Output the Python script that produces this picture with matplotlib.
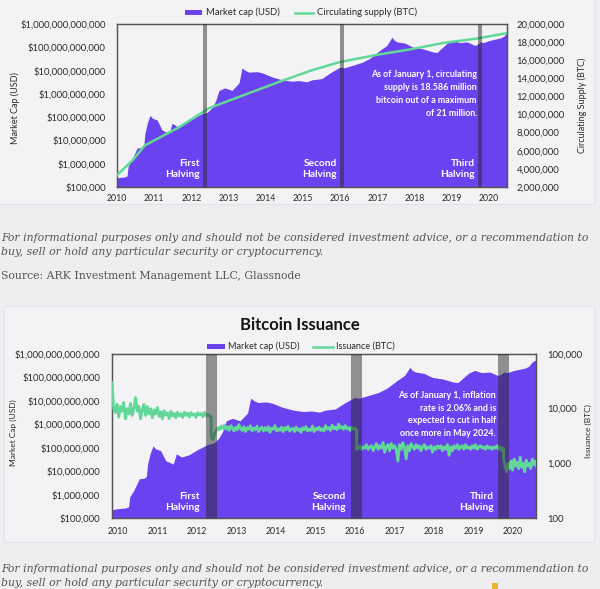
import numpy as np
import matplotlib
matplotlib.use('Agg')
import matplotlib.pyplot as plt
from matplotlib.patches import Rectangle
from matplotlib.lines import Line2D
from matplotlib.ticker import NullLocator

# ---------------- data ----------------
years = list(range(2010, 2021))
halvings = [2012.36, 2016.04, 2019.76]

mc_years = [2009.8, 2010.0, 2010.2, 2010.27, 2010.30, 2010.40, 2010.54, 2010.67, 2010.72, 2010.75,
            2010.82, 2010.89, 2010.95, 2011.08, 2011.21, 2011.40, 2011.48, 2011.61, 2011.8, 2012.0,
            2012.28, 2012.42, 2012.55, 2012.65, 2012.74, 2012.90, 2013.09, 2013.28, 2013.36, 2013.45,
            2013.55, 2013.75, 2013.90, 2014.17, 2014.44, 2014.7, 2014.89, 2015.1, 2015.24, 2015.5,
            2015.73, 2015.99, 2016.1, 2016.34, 2016.6, 2016.80, 2017.07, 2017.25, 2017.39, 2017.45,
            2017.53, 2017.74, 2017.96, 2018.23, 2018.49, 2018.6, 2018.87, 2019.03, 2019.2, 2019.41,
            2019.62, 2019.70, 2019.76, 2019.85, 2020.03, 2020.30, 2020.40, 2020.48, 2020.6]
mc_values = [2.2e5, 2.5e5, 2.7e5, 3e5, 8e5, 1.5e6, 4.7e6, 5e6, 6e6, 2e7,
             6e7, 1.2e8, 9e7, 7.5e7, 2.8e7, 2e7, 5.5e7, 4e7, 5e7, 8e7,
             1.4e8, 1.6e8, 2.5e8, 5e8, 1.4e9, 1.8e9, 1.4e9, 3e9, 1.3e10, 1.0e10,
             8.5e9, 9e9, 8e9, 5.3e9, 4e9, 3.5e9, 3.7e9, 3.3e9, 4e9, 4.5e9,
             8e9, 1.4e10, 1.3e10, 1.7e10, 2.3e10, 3.4e10, 7.5e10, 1.2e11, 2.7e11, 2.0e11,
             1.7e11, 1.5e11, 1e11, 8.5e10, 6.3e10, 6e10, 1.5e11, 2e11, 1.6e11, 1.7e11,
             1.2e11, 1.4e11, 1.7e11, 1.6e11, 2e11, 2.5e11, 3e11, 4.5e11, 6e11]

supply_years = [2010.0, 2010.43, 2010.75, 2011.67, 2012.47, 2013.44, 2014.35, 2015.24, 2015.99,
                2016.99, 2017.88, 2018.76, 2019.68, 2020.48]
supply_btc = [3.3e6, 5.0e6, 6.6e6, 8.6e6, 10.7e6, 12.2e6, 13.6e6, 14.9e6, 15.8e6,
              16.6e6, 17.2e6, 17.9e6, 18.4e6, 19.0e6]

# daily issuance (thousand BTC) per halving era
iss_era1 = [30, 10, 8.5, 12, 7, 11, 9, 13, 6.5, 10, 8, 12.5, 7.5, 10, 16, 9, 11, 6.5, 9.5, 12,
            7.5, 11, 8, 10, 6.8, 9.5, 8, 10.5, 7.2, 8.8, 6.5, 9.2, 7.6, 8.4, 6.6, 8.9, 7.3, 8.2,
            6.8, 8.6, 7.4, 8.1, 6.9, 8.7, 7.5, 8.3, 7.0, 8.5, 7.6, 8.0, 6.9, 8.4, 7.7, 8.2, 7.1,
            8.6, 7.4, 7.9, 7.3, 7.1]
iss_era2 = [3.0, 2.7, 3.4, 3.9, 4.5, 4.1, 4.8, 4.3, 5.0, 4.2, 4.7, 4.0, 4.9, 4.4, 3.9, 4.6, 4.1,
            5.1, 4.3, 4.0, 4.7, 3.8, 4.5, 4.2, 4.9, 3.9, 4.4, 4.1, 4.8, 3.8, 4.3, 4.6, 3.9, 4.5,
            4.0, 4.7, 3.7, 4.4, 4.2, 4.9, 3.9, 4.3, 4.0, 4.6, 3.8, 4.5, 4.1, 4.8, 3.9, 4.2, 4.4,
            3.8, 4.6, 4.0, 4.3, 3.7, 4.5, 4.1, 4.7, 3.9, 4.2, 4.0, 4.8, 3.8, 4.4, 4.1, 4.6, 4.0,
            4.3, 3.9, 4.9, 4.2, 4.5, 4.0, 5.0, 4.3, 4.6, 4.1, 5.2, 4.4, 4.7, 4.2, 4.9, 4.3, 4.5,
            4.0, 4.6, 4.2, 4.4, 4.1]
iss_era3 = [1.8, 1.9, 2.1, 1.8, 2.0, 1.9, 2.2, 1.8, 2.0, 2.1, 1.7, 2.0, 2.3, 1.8, 2.1, 1.9, 2.4,
            1.6, 2.0, 2.2, 1.7, 2.3, 1.9, 2.1, 1.8, 1.1, 2.2, 1.8, 2.4, 1.9, 1.2, 2.1, 1.7, 2.3,
            2.0, 1.8, 2.2, 1.9, 2.1, 1.7, 2.0, 2.2, 1.8, 2.0, 1.9, 2.1, 1.6, 2.0, 1.8, 2.1, 1.9,
            2.1, 1.7, 2.0, 1.8, 2.2, 1.4, 2.0, 1.7, 2.1, 1.9, 2.2, 1.8, 2.0, 2.1, 1.8, 2.2, 1.9,
            2.0, 1.8, 2.1, 1.9, 2.2, 1.8, 2.0, 2.1, 1.9, 2.0, 1.8, 2.1, 1.9, 2.0, 1.8, 2.0, 1.9,
            2.1, 1.8, 2.0, 1.7, 1.9]
iss_era4 = [1.2, 0.9, 0.7, 1.0, 0.8, 1.1, 0.75, 1.2, 0.9, 1.05, 0.8, 1.3, 0.85, 1.0, 0.7, 1.15,
            0.9, 1.0, 0.8, 1.2, 0.95, 1.1, 0.85]
iss_bounds = [2009.85, halvings[0], halvings[1], halvings[2], 2020.6]

mcap_ticks = [1e5, 1e6, 1e7, 1e8, 1e9, 1e10, 1e11, 1e12]
supply_ticks = [2e6, 4e6, 6e6, 8e6, 10e6, 12e6, 14e6, 16e6, 18e6, 20e6]
iss_ticks = [100, 1000, 10000, 100000]

# ---------------- style ----------------
PURPLE = '#6a42f0'
GREEN = '#62d898'
BAND = '#2c2c2c'
BG = '#eeeef1'
PANEL = '#f3f3f5'
TXT = '#2a2a2a'
plt.rcParams['font.family'] = ['Lato', 'DejaVu Sans']

W, H = 600, 589
def fx(x): return x / W
def fy(y): return 1 - y / H

fig = plt.figure(figsize=(6, 5.89), dpi=100)
fig.patch.set_facecolor(BG)

for (x0, y0, x1, y1) in [(-2, -2, 594, 204), (4, 306, 594, 542)]:
    fig.add_artist(Rectangle((fx(x0), fy(y1)), fx(x1) - fx(x0), fy(y0) - fy(y1),
                             transform=fig.transFigure, facecolor=PANEL,
                             edgecolor='#e3e3e7', lw=0.8, zorder=0))

def style_frame(ax):
    for s in ax.spines.values():
        s.set_color('#555555')
        s.set_linewidth(0.9)

def fmt_money(v):
    return '${:,.0f}'.format(v)

def fmt_num(v):
    return '{:,.0f}'.format(v)

# ---------------- top chart ----------------
ax1 = fig.add_axes([fx(117), fy(187), fx(507) - fx(117), fy(24) - fy(187)])
ax1.set_facecolor(PANEL)
ax1.set_xlim(2010, 2020.48)
ax1.set_yscale('log')
ax1.set_ylim(1e5, 1e12)
ax1.fill_between(mc_years, 1e3, mc_values, color=PURPLE, lw=0, zorder=2)
ax1.set_yticks(mcap_ticks)
ax1.set_yticklabels([fmt_money(v) for v in mcap_ticks])
ax1.yaxis.set_minor_locator(NullLocator())
ax1.set_xticks(years)
ax1.set_xticklabels([str(y) for y in years])
ax1.tick_params(axis='y', length=0, pad=8, labelsize=6.8, labelcolor=TXT)
ax1.tick_params(axis='x', length=0, pad=5, labelsize=6.3, labelcolor=TXT)
style_frame(ax1)

ax1r = ax1.twinx()
ax1r.set_ylim(2e6, 2e7)
ax1r.plot(supply_years, supply_btc, color=GREEN, lw=1.8, zorder=3)
for h in halvings:
    ax1r.axvspan(h - 0.055, h + 0.055, color=BAND, alpha=0.5, lw=0, zorder=5)
ax1r.set_yticks(supply_ticks)
ax1r.set_yticklabels([fmt_num(v) for v in supply_ticks])
ax1r.tick_params(axis='y', length=0, pad=7, labelsize=6.8, labelcolor=TXT)
style_frame(ax1r)

# legend top
fig.add_artist(Rectangle((fx(185), fy(15)), fx(202) - fx(185), fy(10) - fy(15),
                         transform=fig.transFigure, facecolor=PURPLE, lw=0))
fig.text(fx(206), fy(12.5), 'Market cap (USD)', fontsize=6.8, color=TXT, va='center', ha='left')
fig.add_artist(Line2D([fx(295), fx(313)], [fy(12.5), fy(12.5)], transform=fig.transFigure,
                      color=GREEN, lw=1.8))
fig.text(fx(317), fy(12.5), 'Circulating supply (BTC)', fontsize=6.8, color=TXT, va='center', ha='left')

fig.text(fx(15), fy(108), 'Market Cap (USD)', rotation=90, fontsize=6.5, color=TXT, va='center', ha='center')
fig.text(fx(582), fy(105), 'Circulating Supply (BTC)', rotation=90, fontsize=6.5, color=TXT, va='center', ha='center')

for xr, lab in [(200, 'First\nHalving'), (337, 'Second\nHalving'), (475, 'Third\nHalving')]:
    fig.text(fx(xr), fy(169), lab, fontsize=7.3, color='white', fontweight='bold',
             ha='right', va='center', multialignment='right', linespacing=1.35, zorder=10)
fig.text(fx(477), fy(94), 'As of January 1, circulating\nsupply is 18.586 million\n'
         'bitcoin out of a maximum\nof 21 million.', fontsize=6.4, color='white', fontweight='bold',
         ha='right', va='center', multialignment='right', linespacing=1.55, zorder=10)

# ---------------- text between ----------------
disc = ['For informational purposes only and should not be considered investment advice, or a recommendation to',
        'buy, sell or hold any particular security or cryptocurrency.']
for yy, line in zip([238, 252], disc):
    fig.text(fx(1), fy(yy), line, family='DejaVu Serif', style='italic', fontsize=7.8,
             color='#555555', va='center', ha='left')
fig.text(fx(1), fy(276), 'Source: ARK Investment Management LLC, Glassnode', family='DejaVu Serif',
         fontsize=7.8, color='#555555', va='center', ha='left')

# ---------------- bottom chart ----------------
ax2 = fig.add_axes([fx(112), fy(518), fx(536) - fx(112), fy(354) - fy(518)])
ax2.set_facecolor(PANEL)
ax2.set_xlim(2009.85, 2020.58)
ax2.set_yscale('log')
ax2.set_ylim(1e5, 1e12)
ax2.fill_between(mc_years, 1e3, mc_values, color=PURPLE, lw=0, zorder=2)
ax2.set_yticks(mcap_ticks)
ax2.set_yticklabels([fmt_money(v) for v in mcap_ticks])
ax2.yaxis.set_minor_locator(NullLocator())
ax2.set_xticks(years)
ax2.set_xticklabels([str(y) for y in years])
ax2.tick_params(axis='y', length=0, pad=8.5, labelsize=6.8, labelcolor=TXT)
ax2.tick_params(axis='x', length=0, pad=6.5, labelsize=6.3, labelcolor=TXT)
style_frame(ax2)

ax2r = ax2.twinx()
ax2r.set_yscale('log')
ax2r.set_ylim(100, 100000)
eras = [iss_era1, iss_era2, iss_era3, iss_era4]
iss_x, iss_y = [], []
for i, era in enumerate(eras):
    iss_x.extend(np.linspace(iss_bounds[i], iss_bounds[i + 1], len(era)))
    iss_y.extend([v * 1000 for v in era])
ax2r.plot(iss_x, iss_y, color=GREEN, lw=2.0, zorder=3)
for h in halvings:
    ax2r.axvspan(h - 0.14, h + 0.14, color=BAND, alpha=0.5, lw=0, zorder=5)
ax2r.set_yticks(iss_ticks)
ax2r.set_yticklabels([fmt_num(v) for v in iss_ticks])
ax2r.yaxis.set_minor_locator(NullLocator())
ax2r.tick_params(axis='y', length=0, pad=8, labelsize=6.8, labelcolor=TXT)
style_frame(ax2r)

fig.text(fx(300), fy(325), 'Bitcoin Issuance', fontsize=12, fontweight='bold', color='#151515',
         ha='center', va='center')
fig.add_artist(Rectangle((fx(207), fy(349)), fx(225) - fx(207), fy(344) - fy(349),
                         transform=fig.transFigure, facecolor=PURPLE, lw=0))
fig.text(fx(228), fy(346.5), 'Market cap (USD)', fontsize=6.6, color=TXT, va='center', ha='left')
fig.add_artist(Line2D([fx(313), fx(333)], [fy(346.5), fy(346.5)], transform=fig.transFigure,
                      color=GREEN, lw=1.8))
fig.text(fx(336), fy(346.5), 'Issuance (BTC)', fontsize=6.6, color=TXT, va='center', ha='left')

fig.text(fx(13), fy(433), 'Market Cap (USD)', rotation=90, fontsize=6.0, color=TXT, va='center', ha='center')
fig.text(fx(588), fy(431), 'Issuance (BTC)', rotation=90, fontsize=6.0, color=TXT, va='center', ha='center')

for xr, lab in [(200, 'First\nHalving'), (346, 'Second\nHalving'), (494, 'Third\nHalving')]:
    fig.text(fx(xr), fy(502), lab, fontsize=7.3, color='white', fontweight='bold',
             ha='right', va='center', multialignment='right', linespacing=1.35, zorder=10)
fig.text(fx(496), fy(414.5), 'As of January 1, inflation\nrate is 2.06% and is\n'
         'expected to cut in half\nonce more in May 2024.', fontsize=6.4, color='white', fontweight='bold',
         ha='right', va='center', multialignment='right', linespacing=1.5, zorder=10)

for yy, line in zip([569, 583], disc):
    fig.text(fx(1), fy(yy), line, family='DejaVu Serif', style='italic', fontsize=7.8,
             color='#555555', va='center', ha='left')

fig.add_artist(Rectangle((fx(492), fy(589)), fx(498) - fx(492), fy(583) - fy(589),
                         transform=fig.transFigure, facecolor='#e8b530', lw=0))

fig.savefig('out.png', dpi=100, facecolor=BG)
